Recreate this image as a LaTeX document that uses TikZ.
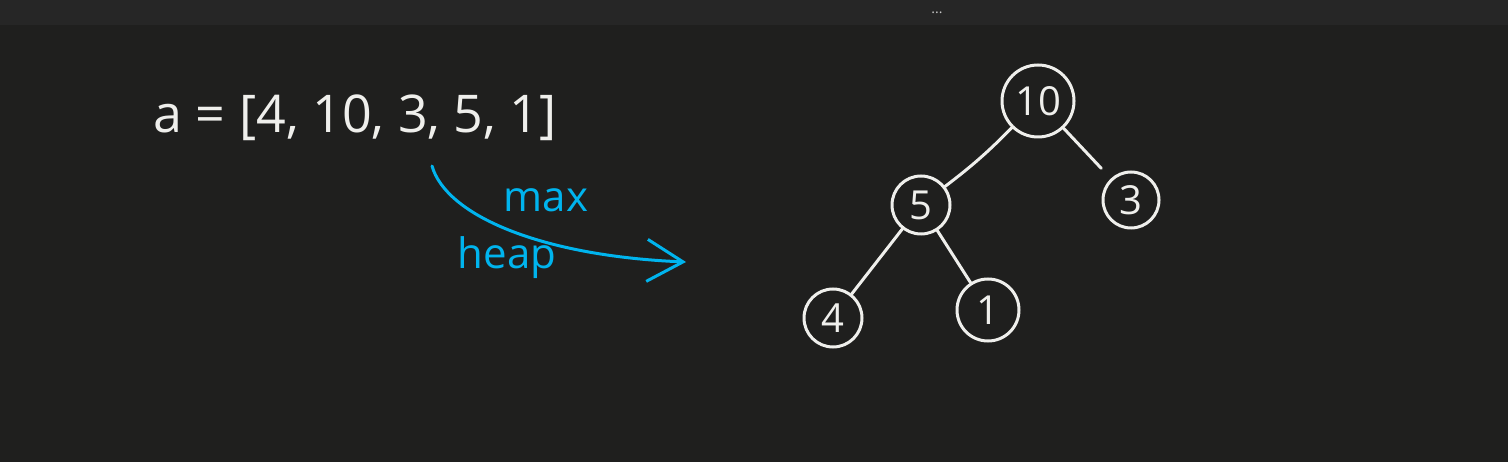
\documentclass[tikz,border=0pt]{standalone}
\usepackage{fontspec}
\setmainfont{Open Sans}
\usetikzlibrary{arrows.meta,positioning}
\definecolor{bg}{HTML}{1F1F1E}
\definecolor{bar}{HTML}{262626}
\definecolor{chalk}{HTML}{EFEFEC}
\definecolor{sky}{HTML}{00B4EE}
\definecolor{dim}{HTML}{C8C8C8}
\tikzset{
  key/.style  ={circle,draw=chalk,line width=3pt,text=chalk,inner sep=0pt,
                font=\fontsize{40}{44}\selectfont},
  link/.style ={draw=chalk,line width=3pt,line cap=round},
  ink/.style  ={text=sky,font=\fontsize{42}{46}\selectfont},
  flow/.style ={-{Straight Barb[length=36pt,width=42pt]},draw=sky,line width=3pt,line cap=round},
}

\begin{document}
\begin{tikzpicture}[x=1pt,y=-1pt]
  \useasboundingbox (0,0) rectangle (1508,462);
  \fill[bg] (0,0) rectangle (1508,462);

  % --- window bar ---
  \fill[bar] (0,0) rectangle (1508,25);
  \node[text=dim,font=\fontsize{14}{14}\selectfont,anchor=base,inner sep=0pt] (dots) at (937,14) {...};

  % --- the array ---
  \node[text=chalk,font=\fontsize{52}{58}\selectfont,anchor=west] (arr) at (150,118)
        {a = [4, 10, 3, 5, 1]};

  % --- max heap arrow ---
  \coordinate (arrS) at (432,166);
  \coordinate (arrE) at (686,262);
  \draw[flow] (arrS) .. controls (446,215) and (540,256) .. (arrE);
  \node[ink] (mx) at (546,200) {max};
  \node[ink] (hp) at (507,258) {heap};

  % --- the tree ---
  \node[key,minimum size=72pt] (n10) at (1038,101) {10};
  \node[key,minimum size=58pt] (n5)  at (921,205)  {5};
  \node[key,minimum size=56pt] (n3)  at (1131,200) {3};
  \node[key,minimum size=58pt] (n4)  at (833,318)  {4};
  \node[key,minimum size=62pt] (n1)  at (988,310)  {1};

  % edges
  \draw[link] (n10) to[bend left=4] (n5);
  \draw[link,shorten >=14pt] (n10) -- (n3);
  \draw[link] (n5) -- (n4);
  \draw[link] (n5) -- (n1);
\end{tikzpicture}
\end{document}
